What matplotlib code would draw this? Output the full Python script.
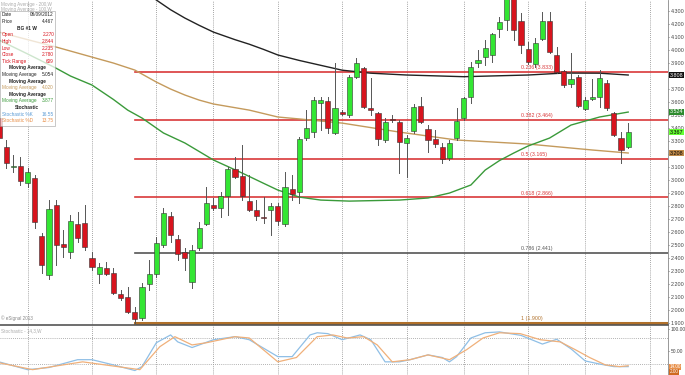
import numpy as np
import matplotlib.pyplot as plt
from matplotlib.patches import Rectangle

plt.rcParams['font.family'] = ['Liberation Sans', 'DejaVu Sans']

# Свечи (недельные): open, high, low, close
opens = [3.477, 3.254, 3.100, 3.108, 2.977, 3.015, 2.569, 2.270, 2.808, 2.508,
         2.446, 2.662, 2.669, 2.400, 2.277, 2.323, 2.285, 2.123, 2.100, 1.985,
         1.938, 2.200, 2.277, 2.500, 2.723, 2.546, 2.446, 2.215, 2.477, 2.662,
         2.808, 2.785, 2.877, 3.085, 3.031, 2.838, 2.769, 2.715, 2.769, 2.800,
         2.662, 2.931, 2.908, 3.323, 3.369, 3.592, 3.608, 3.362, 3.523, 3.500,
         3.792, 3.862, 3.554, 3.515, 3.308, 3.469, 3.446, 3.285, 3.377, 3.569,
         3.392, 3.315, 3.254, 3.169, 3.323, 3.477, 3.638, 3.900, 3.946, 3.962,
         4.162, 4.231, 4.400, 4.223, 4.008, 3.892, 4.085, 4.223, 3.962, 3.838,
         3.738, 3.792, 3.546, 3.623, 3.638, 3.746, 3.515, 3.323, 3.254]
highs = [3.523, 3.308, 3.192, 3.177, 3.092, 3.038, 2.592, 2.844, 2.846, 2.615,
         2.731, 2.754, 2.808, 2.446, 2.362, 2.369, 2.323, 2.154, 2.177, 2.023,
         2.208, 2.385, 2.562, 2.785, 2.754, 2.577, 2.477, 2.500, 2.677, 2.946,
         2.862, 2.908, 3.100, 3.177, 3.269, 3.038, 2.846, 2.869, 2.823, 2.823,
         3.062, 3.038, 3.331, 3.538, 3.638, 3.638, 3.638, 3.900, 3.538, 3.808,
         3.938, 3.870, 3.785, 3.523, 3.477, 3.500, 3.462, 3.346, 3.585, 3.638,
         3.423, 3.385, 3.285, 3.308, 3.554, 3.638, 3.908, 4.000, 4.077, 4.131,
         4.254, 4.430, 4.430, 4.285, 4.062, 4.092, 4.292, 4.292, 4.023, 3.846,
         3.977, 3.808, 3.638, 3.777, 3.846, 3.769, 3.523, 3.369, 3.438]
lows = [3.292, 3.092, 3.062, 2.962, 2.946, 2.631, 2.285, 2.235, 2.346, 2.408,
        2.400, 2.523, 2.462, 2.308, 2.208, 2.269, 2.125, 2.077, 1.977, 1.900,
        1.923, 2.154, 2.254, 2.485, 2.523, 2.385, 2.308, 2.169, 2.462, 2.654,
        2.769, 2.715, 2.731, 3.015, 2.846, 2.762, 2.692, 2.669, 2.577, 2.654,
        2.646, 2.846, 2.823, 3.308, 3.331, 3.385, 3.362, 3.355, 3.500, 3.485,
        3.785, 3.554, 3.500, 3.269, 3.292, 3.446, 3.054, 3.023, 3.362, 3.438,
        3.215, 3.254, 3.131, 3.154, 3.308, 3.462, 3.592, 3.869, 3.885, 3.908,
        4.100, 4.154, 4.077, 3.977, 3.892, 3.869, 4.077, 3.977, 3.823, 3.715,
        3.715, 3.562, 3.538, 3.615, 3.562, 3.538, 3.338, 3.131, 3.246]
closes = [3.323, 3.131, 3.108, 2.992, 3.062, 2.677, 2.346, 2.780, 2.500, 2.485,
          2.685, 2.554, 2.485, 2.331, 2.331, 2.277, 2.131, 2.092, 1.985, 1.931,
          2.177, 2.277, 2.515, 2.746, 2.577, 2.431, 2.400, 2.462, 2.631, 2.823,
          2.785, 2.877, 3.085, 3.023, 2.877, 2.769, 2.723, 2.708, 2.800, 2.685,
          2.946, 2.892, 3.315, 3.400, 3.615, 3.615, 3.400, 3.554, 3.508, 3.792,
          3.900, 3.562, 3.538, 3.315, 3.446, 3.462, 3.292, 3.323, 3.562, 3.446,
          3.308, 3.277, 3.162, 3.285, 3.454, 3.631, 3.869, 3.923, 4.015, 4.123,
          4.215, 4.400, 4.154, 4.038, 3.908, 4.054, 4.223, 3.985, 3.831, 3.731,
          3.777, 3.569, 3.615, 3.638, 3.785, 3.554, 3.346, 3.231, 3.367]

# Скользящие средние (номер недели, значение)
ma_black_x = [20, 22, 24, 26, 28, 30, 33, 35, 37, 39, 42, 44, 48, 52, 57, 65,
              74, 79, 84, 88]
ma_black_y = [4.47, 4.385, 4.31, 4.246, 4.19, 4.138, 4.08, 4.045, 4.005, 3.962,
              3.92, 3.895, 3.845, 3.822, 3.808, 3.795, 3.808, 3.823, 3.822, 3.808]
ma_orange_x = [0, 4, 8, 13, 16, 19, 22, 24, 26, 28, 30, 35, 39, 42, 48, 56,
               64, 74, 83, 88]
ma_orange_y = [4.138, 4.080, 4.023, 3.946, 3.900, 3.846, 3.754, 3.700, 3.654,
               3.615, 3.585, 3.538, 3.485, 3.470, 3.438, 3.369, 3.308, 3.277,
               3.231, 3.208]
ma_green_x = [0, 4, 8, 10, 13, 16, 18, 20, 23, 26, 30, 34, 37, 39, 42, 45, 49,
              56, 60, 63, 66, 68, 70, 72, 74, 77, 80, 84, 88]
ma_green_y = [4.077, 3.970, 3.860, 3.800, 3.731, 3.620, 3.538, 3.477, 3.362,
              3.285, 3.154, 3.054, 2.975, 2.923, 2.869, 2.846, 2.838, 2.846,
              2.862, 2.900, 2.962, 3.077, 3.150, 3.208, 3.262, 3.323, 3.423,
              3.485, 3.523]

# Стохастик
stoch_k_x = [0, 4, 7, 11, 13, 16, 19, 20, 22, 24, 25, 27, 28, 30, 33, 35, 39,
             41, 43.5, 44.5, 46, 48, 50.5, 52, 54, 56, 57.5, 60, 62, 63, 64, 66,
             68, 70, 73, 76, 78, 80, 82, 84, 86, 88]
stoch_k_y = [25, 7, 12, 30, 30, 18, 5, 14, 69, 87, 71, 58, 64, 76, 83, 76, 37,
             37, 87, 92, 90, 76, 87, 76, 25, 25, 30, 41, 35, 25, 37, 80, 92, 94,
             86, 66, 77, 55, 27, 20, 14, 14]
stoch_d_x = [0, 4.7, 11.7, 19.7, 22.5, 24.6, 27, 29, 33, 35, 39, 41.6, 44.5,
             46.7, 48.7, 51, 52.9, 55, 57.5, 60, 63, 65.4, 67.7, 70, 72.9, 75.7,
             78.5, 80.6, 82.6, 84.8, 86.8, 88]
stoch_d_y = [23, 7, 25, 7, 60, 83, 64, 69, 83, 80, 25, 35, 83, 87, 80, 83, 64,
             25, 30, 41, 30, 53, 80, 92, 90, 76, 71, 53, 35, 18, 14, 16]

# Уровни Фибоначчи
fib_ratio = ['0.236', '0.382', '0.5', '0.618', '0.786', '1']
fib_value = [3.833, 3.464, 3.165, 2.866, 2.441, 1.900]
fib_color = ['#d9383a', '#d9383a', '#d9383a', '#d9383a', '#555555', '#b0702a']
fib_start = 19

grid_x = [4, 13, 22, 30, 39, 48, 57, 65, 74, 82, 91]

red = '#d8141e'
green = '#33e633'

fig = plt.figure(figsize=(6.85, 3.75), dpi=100)
ax = fig.add_axes([0, 50 / 375, 668 / 685, 325 / 375])
ax2 = fig.add_axes([0, 0, 668 / 685, 49 / 375])

xmin, xmax = 0.14, 0.14 + 668 / 7.15

# Основная панель
for gx in grid_x:
    ax.axvline(gx, color='#888888', lw=0.6, ls=(0, (1, 1.5)), zorder=0)
    ax2.axvline(gx, color='#888888', lw=0.6, ls=(0, (1, 1.5)), zorder=0)

for r, v, c in zip(fib_ratio, fib_value, fib_color):
    lw = 2.2 if r == '1' else 1.2
    ax.plot([fib_start, xmax], [v, v], color=c, lw=lw, zorder=1)
    ax.text(73, v + 0.012, f'{r} ({v:.3f})', color=c, fontsize=3.8,
            ha='left', va='bottom', zorder=2)

ax.plot(ma_black_x, ma_black_y, color='#222222', lw=1.0, zorder=3)
ax.plot(ma_orange_x, ma_orange_y, color='#c49a5c', lw=1.0, zorder=3)
ax.plot(ma_green_x, ma_green_y, color='#3a9a3a', lw=1.0, zorder=3)

for i, (o, h, l, c) in enumerate(zip(opens, highs, lows, closes)):
    col = green if c >= o else red
    ax.plot([i, i], [l, h], color='#555555', lw=0.7, zorder=4)
    body = max(abs(c - o), 0.006)
    ax.add_patch(Rectangle((i - 0.36, min(o, c)), 0.72, body, facecolor=col,
                           edgecolor='#333333', lw=0.4, zorder=5))

ax.set_xlim(xmin, xmax)
ax.set_ylim(1.885, 4.385)
ax.yaxis.tick_right()
yt = np.arange(1.9, 4.35, 0.1)
ax.set_yticks(yt)
ax.set_yticklabels([f'{t:.3f}' for t in yt])
ax.tick_params(axis='y', labelsize=3.9, colors='#444444', length=1, width=0.5, pad=1)
ax.set_xticks([])
for s in ['top', 'left']:
    ax.spines[s].set_visible(False)
ax.spines['right'].set_color('#888888')
ax.spines['right'].set_linewidth(0.6)
ax.spines['bottom'].set_color('#555555')
ax.spines['bottom'].set_linewidth(1.2)

# Метки текущих значений на оси
for val, fc, tc in [(3.808, '#111111', 'white'), (3.524, '#2e8b2e', 'white'),
                    (3.367, '#66ff33', 'black'), (3.208, '#c08a4a', 'black')]:
    ax.annotate(f'{val:.3f}', xy=(1.0, val), xycoords=('axes fraction', 'data'),
                xytext=(1, 0), textcoords='offset points', fontsize=3.9,
                color=tc, va='center', ha='left',
                bbox=dict(boxstyle='square,pad=0.12', fc=fc, ec='none'),
                annotation_clip=False, zorder=10)

# Легенда-инфобокс
ax.text(0.002, 0.995, 'Moving Average - 200,W', transform=ax.transAxes,
        fontsize=3.3, color='#aaaaaa', va='top')
ax.text(0.002, 0.978, 'Moving Average - 100,W', transform=ax.transAxes,
        fontsize=3.3, color='#aaaaaa', va='top')
ax.add_patch(Rectangle((0.0, 1 - 126 / 325), 55 / 668, 115 / 325,
                       transform=ax.transAxes, facecolor='white', alpha=0.75,
                       edgecolor='#999999', lw=0.5, zorder=6))
rows = [
    ('Date', '08/09/2012', '#222222', False),
    ('Price', '4.467', '#222222', False),
    ('BG #1 W', None, '#222222', True),
    ('Open', '2.270', '#d8141e', False),
    ('High', '2.844', '#d8141e', False),
    ('Low', '2.235', '#d8141e', False),
    ('Close', '2.780', '#d8141e', False),
    ('Tick Range', '609', '#d8141e', False),
    ('Moving Average', None, '#222222', True),
    ('Moving Average', '5.054', '#222222', False),
    ('Moving Average', None, '#222222', True),
    ('Moving Average', '4.020', '#c49a5c', False),
    ('Moving Average', None, '#222222', True),
    ('Moving Average', '3.877', '#3a9a3a', False),
    ('Stochastic', None, '#222222', True),
    ('Stochastic %K', '16.55', '#5b9bd5', False),
    ('Stochastic %D', '13.75', '#e8904a', False),
]
for k, (lab, val, col, bold) in enumerate(rows):
    y = 1 - (15 + k * 6.6) / 325
    if val is None:
        ax.text(27 / 668, y, lab, transform=ax.transAxes, fontsize=3.4,
                color=col, ha='center', va='center', weight='bold', zorder=7)
    else:
        ax.text(2 / 668, y, lab, transform=ax.transAxes, fontsize=3.4,
                color=col, ha='left', va='center', zorder=7)
        ax.text(54 / 668, y, val, transform=ax.transAxes, fontsize=3.4,
                color=col, ha='right', va='center', zorder=7)

ax.text(0.002, 0.012, '© eSignal 2013', transform=ax.transAxes,
        fontsize=3.3, color='#888888', va='bottom')

# Панель стохастика
ax2.axhline(80, color='#999999', lw=0.6, ls=(0, (1, 1.5)))
ax2.axhline(20, color='#999999', lw=0.6, ls=(0, (1, 1.5)))
ax2.plot(stoch_k_x, stoch_k_y, color='#8fbfe6', lw=0.9)
ax2.plot(stoch_d_x, stoch_d_y, color='#f0b07a', lw=0.9)
ax2.set_xlim(xmin, xmax)
ax2.set_ylim(-5.3, 107.6)
ax2.yaxis.tick_right()
ax2.set_yticks([50, 100])
ax2.set_yticklabels(['50.00', '100.00'])
ax2.tick_params(axis='y', labelsize=3.5, colors='#444444', length=1, width=0.5, pad=1)
ax2.set_xticks([])
for s in ['top', 'left', 'bottom']:
    ax2.spines[s].set_visible(False)
ax2.spines['right'].set_color('#888888')
ax2.spines['right'].set_linewidth(0.6)
ax2.text(0.002, 0.96, 'Stochastic - 14,3,W', transform=ax2.transAxes,
         fontsize=3.3, color='#aaaaaa', va='top')
for val, fc in [(14, '#e8904a'), (2, '#d06a20')]:
    ax2.annotate(f'{val:.2f}', xy=(1.0, val), xycoords=('axes fraction', 'data'),
                 xytext=(1, 0), textcoords='offset points', fontsize=3.3,
                 color='white', va='center', ha='left',
                 bbox=dict(boxstyle='square,pad=0.1', fc=fc, ec='none'),
                 annotation_clip=False)

fig.savefig('out.png', dpi=100)
